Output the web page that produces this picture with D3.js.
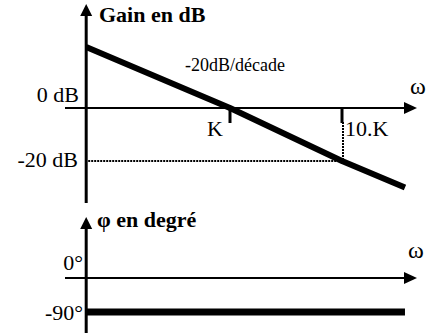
<!DOCTYPE html>
<html>
<head>
<meta charset="utf-8">
<script src="https://cdn.jsdelivr.net/npm/d3@7"></script>
<style>
  html, body { margin: 0; padding: 0; background: #fff; }
  svg { display: block; }
</style>
</head>
<body>
<svg id="chart" width="437" height="333"></svg>
<script>
// Bode asymptotes of an integrator-like filter: gain falls 20 dB/decade, phase fixed at -90°
const omegaPts = [0.052, 1, 10, 36.5];      // ω relative to K
const gainPts  = [23, 0, -20, -30];         // gain asymptote, dB
const phaseOmega = [0.052, 36.5];
const phasePts = [-90, -90];                // phase, degrees
const freqTicks = [{w: 1, label: "K"}, {w: 10, label: "10.K"}];
const gainTicks = [{v: 0, label: "0 dB"}, {v: -20, label: "-20 dB"}];
const phaseTicks = [{v: 0, label: "0°"}, {v: -90, label: "-90°"}];

const FONT = "'Liberation Serif'";
const svg = d3.select("#chart");

const x = d3.scaleLog().domain([1, 10]).range([230, 342]);
const yG = d3.scaleLinear().domain([0, -20]).range([108, 161]);
const yP = d3.scaleLinear().domain([0, -90]).range([278, 312]);
const x0 = x(omegaPts[0]);

// arrowhead helper
function arrow(tipX, tipY, dir) {
  const L = 12, H = 6;
  let pts;
  if (dir === "up") pts = [[tipX, tipY], [tipX - H, tipY + L], [tipX + H, tipY + L]];
  else pts = [[tipX, tipY], [tipX - L - 1, tipY - H], [tipX - L - 1, tipY + H]];
  svg.append("path").attr("d", "M" + pts.map(p => p.join(",")).join("L") + "Z").attr("fill", "#000");
}

function label(xp, yp, size, str, opts = {}) {
  return svg.append("text").attr("x", xp).attr("y", yp)
    .style("font-family", FONT).style("font-size", size + "px")
    .style("font-weight", opts.bold ? "bold" : "normal")
    .attr("text-anchor", opts.anchor || "start")
    .attr("fill", "#000").text(str);
}

// ---------- Gain plot ----------
svg.append("line").attr("x1", x0).attr("x2", x0).attr("y1", 203).attr("y2", 14)
  .attr("stroke", "#000").attr("stroke-width", 3);
arrow(x0, 4, "up");
svg.append("line").attr("x1", 65).attr("x2", 406).attr("y1", yG(0)).attr("y2", yG(0))
  .attr("stroke", "#000").attr("stroke-width", 2);
arrow(417, yG(0), "right");

// ticks at K and 10.K
freqTicks.forEach(t => {
  svg.append("line").attr("x1", x(t.w)).attr("x2", x(t.w)).attr("y1", yG(0)).attr("y2", yG(0) + 15)
    .attr("stroke", "#000").attr("stroke-width", 3);
});

// dotted guides for the -20 dB point
svg.append("line").attr("x1", x0 + 2).attr("x2", x(10)).attr("y1", yG(-20)).attr("y2", yG(-20))
  .attr("stroke", "#000").attr("stroke-width", 2).attr("stroke-dasharray", "2,1");
svg.append("line").attr("x1", x(10) + 1).attr("x2", x(10) + 1).attr("y1", yG(0) + 14).attr("y2", yG(-20))
  .attr("stroke", "#000").attr("stroke-width", 2).attr("stroke-dasharray", "2,1");

// gain asymptote
const gainLine = d3.line().x(d => x(d[0])).y(d => yG(d[1]));
svg.append("path").datum(d3.zip(omegaPts, gainPts)).attr("d", gainLine)
  .attr("fill", "none").attr("stroke", "#000").attr("stroke-width", 6).attr("stroke-linejoin", "round");

// labels
label(99, 22, 22, "Gain en dB", {bold: true});
label(185, 71, 18, "-20dB/décade");
gainTicks.forEach(t => {
  label(t.v === 0 ? 79 : 78, yG(t.v) + (t.v === 0 ? -6 : 6), 22, t.label, {anchor: "end"});
});
freqTicks.forEach(t => {
  label(t.w === 1 ? x(t.w) - 23 : x(t.w) + 3, 136, 22, t.label);
});
label(410, 94, 24, "ω");

// ---------- Phase plot ----------
svg.append("line").attr("x1", x0).attr("x2", x0).attr("y1", 333).attr("y2", 226)
  .attr("stroke", "#000").attr("stroke-width", 3);
arrow(x0, 217, "up");
svg.append("line").attr("x1", 65).attr("x2", 406).attr("y1", yP(0)).attr("y2", yP(0))
  .attr("stroke", "#000").attr("stroke-width", 2);
arrow(417, yP(0), "right");

const phaseLine = d3.line().x(d => x(d[0])).y(d => yP(d[1]));
svg.append("path").datum(d3.zip(phaseOmega, phasePts)).attr("d", phaseLine)
  .attr("fill", "none").attr("stroke", "#000").attr("stroke-width", 7).attr("stroke-linecap", "butt");

label(97, 227, 22, "φ en degré", {bold: true});
phaseTicks.forEach(t => {
  label(83, t.v === 0 ? 270 : 320, 22, t.label, {anchor: "end"});
});
label(408, 258, 24, "ω");
</script>
</body>
</html>
